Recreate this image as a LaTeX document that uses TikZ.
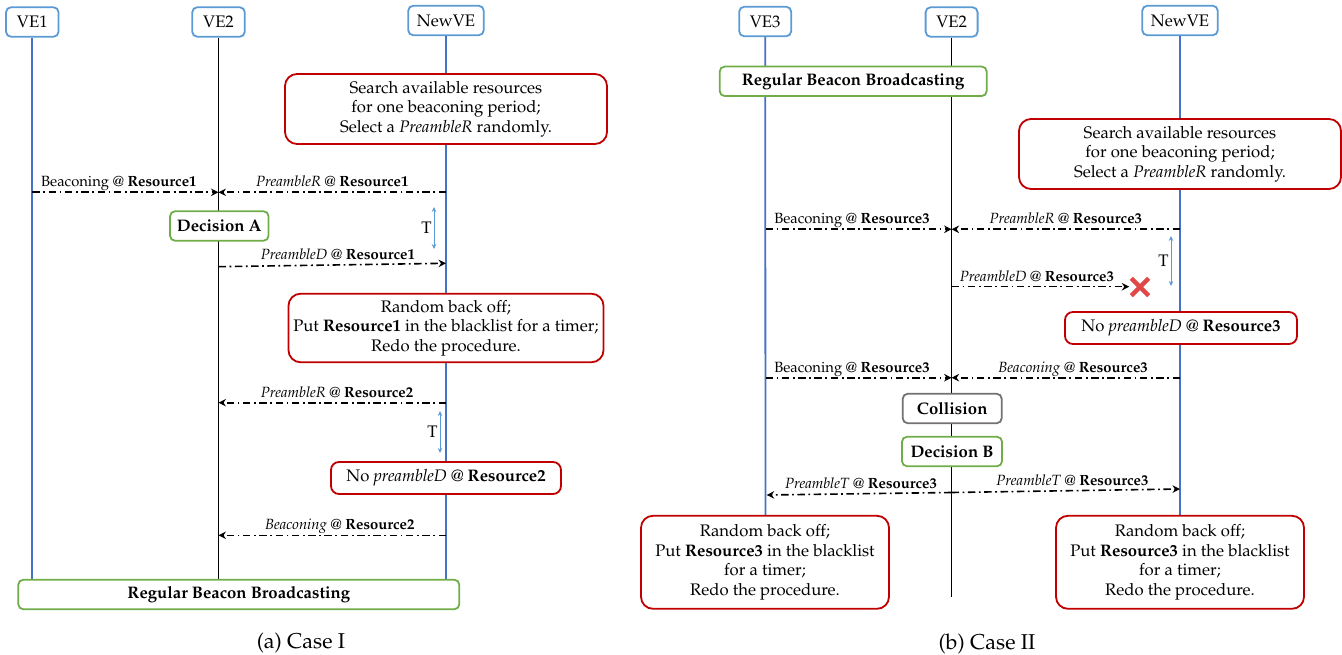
\documentclass[tikz,border=0pt]{standalone}
\usepackage[T1]{fontenc}
\usepackage{mathpazo}
\usetikzlibrary{arrows.meta}
\definecolor{hdrblue}{HTML}{5B9BD5}
\definecolor{lifeblue}{HTML}{4472C4}
\definecolor{myred}{HTML}{C00000}
\definecolor{mygreen}{HTML}{70AD47}
\definecolor{mygray}{HTML}{767171}
\definecolor{xred}{HTML}{E04848}
\newcommand\mainsz{\fontsize{16.7}{19.5}\selectfont}
\newcommand\lblsz{\fontsize{14.8}{17}\selectfont}
\newcommand\capsz{\fontsize{21.5}{25}\selectfont}
\tikzset{
  hdr/.style={draw=hdrblue, line width=1.8pt, rounded corners=5pt, fill=white, inner sep=0pt, minimum height=29.5pt, font=\mainsz},
  rbox/.style={draw=myred, line width=1.8pt, rounded corners=12pt, fill=white, inner sep=0pt, align=center, font=\mainsz},
  gbox/.style={draw=mygreen, line width=1.8pt, rounded corners=5pt, fill=white, inner sep=0pt, minimum height=29.5pt, font=\mainsz\bfseries},
  graybox/.style={draw=mygray, line width=1.8pt, rounded corners=5pt, fill=white, inner sep=0pt, minimum height=29.5pt, font=\mainsz\bfseries},
  life/.style={line width=1.8pt, draw=lifeblue},
  lifek/.style={line width=1.7pt, draw=black},
  msg/.style={line width=1.6pt, dash pattern=on 7.5pt off 3.5pt on 1.8pt off 3.5pt, -{Stealth[length=7.5pt,width=7.5pt,inset=2.5pt]}},
  lbl/.style={font=\lblsz, inner sep=0pt, anchor=base, yshift=5.5pt},
  tarr/.style={draw=hdrblue, line width=1pt, {Stealth[length=5pt,width=4.5pt]}-{Stealth[length=5pt,width=4.5pt]}},
  tlbl/.style={font=\mainsz, inner sep=2pt, left}
}
\begin{document}
\begin{tikzpicture}[x=1pt,y=-1pt]
\useasboundingbox (0,0) rectangle (1342,655);
% ---------- Case I ----------
\node[hdr, minimum width=52.5pt] (ve1) at (32.3,22) {VE1};
\node[hdr, minimum width=52.5pt] (ve2a) at (218.5,22) {VE2};
\node[hdr, minimum width=75.5pt] (newa) at (446,20.5) {NewVE};
\coordinate (ve1e) at (32.3,585);
\coordinate (ve2ae) at (218.5,585);
\coordinate (newae) at (446,585);
\draw[life] (ve1) -- (ve1e);
\draw[lifek] (ve2a) -- (ve2ae);
\draw[life] (newa) -- (newae);

\node[rbox, minimum width=322pt, minimum height=70pt] (r1) at (446,109) {Search available resources\\for one beaconing period;\\Select a \textit{PreambleR} randomly.};

\coordinate (a1) at (32.3,192.3);
\coordinate (a2) at (218.5,192.3);
\coordinate (a3) at (446,192.3);
\draw[msg] (a1) -- node[lbl, pos=0.465]{Beaconing @ \textbf{Resource1}} (a2);
\draw[msg] (a3) -- node[lbl, pos=0.5]{\textit{PreambleR} @ \textbf{Resource1}} (a2);

\node[gbox, minimum width=98.5pt] (deca) at (219.3,226) {Decision A};

\coordinate (t1a) at (434,207);
\coordinate (t1b) at (434,249);
\draw[tarr] (t1a) -- node[tlbl]{T} (t1b);

\coordinate (b1) at (218.5,266.7);
\coordinate (b2) at (446,263.3);
\draw[msg] (b1) -- node[lbl, pos=0.525]{\textit{PreambleD} @ \textbf{Resource1}} (b2);

\node[rbox, minimum width=315pt, minimum height=68.5pt] (r2) at (446,328) {Random back off;\\Put \textbf{Resource1} in the blacklist for a timer;\\Redo the procedure.};

\coordinate (c1) at (446,402.7);
\coordinate (c2) at (218.5,402.7);
\draw[msg] (c1) -- node[lbl, pos=0.479]{\textit{PreambleR} @ \textbf{Resource2}} (c2);

\coordinate (t2a) at (440,411);
\coordinate (t2b) at (440,453);
\draw[tarr] (t2a) -- node[tlbl]{T} (t2b);

\node[rbox, rounded corners=8pt, minimum width=230pt, minimum height=32pt] (r3) at (446,478) {No \textit{preambleD} @ \textbf{Resource2}};

\coordinate (d1) at (446,535.3);
\coordinate (d2) at (218.5,535.3);
\draw[msg] (d1) -- node[lbl, pos=0.467]{\textit{Beaconing} @ \textbf{Resource2}} (d2);

\node[gbox, minimum width=441pt] (rbb1) at (238.8,594.5) {Regular Beacon Broadcasting};
\node[font=\capsz, inner sep=0pt] (capa) at (301,643) {(a) Case I};

% ---------- Case II ----------
\node[hdr, minimum width=52pt] (ve3) at (765.2,21.5) {VE3};
\node[hdr, minimum width=52pt] (ve2b) at (951.6,22) {VE2};
\node[hdr, minimum width=75.5pt] (newb) at (1180,20.5) {NewVE};
\coordinate (ve3e) at (765.5,540);
\coordinate (ve2be) at (951.6,596.7);
\coordinate (newbe) at (1180,540);
\draw[life] (ve3) -- (ve3e);
\draw[lifek] (ve2b) -- (ve2be);
\draw[life] (newb) -- (newbe);

\node[gbox, minimum width=267pt] (rbb2) at (853.2,81.3) {Regular Beacon Broadcasting};
\node[rbox, minimum width=322pt, minimum height=70pt] (r4) at (1180,154) {Search available resources\\for one beaconing period;\\Select a \textit{PreambleR} randomly.};

\coordinate (e1) at (765.5,229.3);
\coordinate (e2) at (951.6,229.3);
\coordinate (e3) at (1180,229.3);
\draw[msg] (e1) -- node[lbl, pos=0.465]{Beaconing @ \textbf{Resource3}} (e2);
\draw[msg] (e3) -- node[lbl, pos=0.5]{\textit{PreambleR} @ \textbf{Resource3}} (e2);

\coordinate (t3a) at (1171,236);
\coordinate (t3b) at (1171,286);
\draw[tarr] (t3a) -- node[tlbl]{T} (t3b);

\node[minimum size=17pt, inner sep=0pt] (xm) at (1140,287) {};
\draw[xred, line width=4.5pt] (xm.north west) -- (xm.south east) (xm.north east) -- (xm.south west);
\coordinate (f1) at (951.6,286.7);
\draw[msg, shorten >=2pt] (f1) -- node[lbl, pos=0.475]{\textit{PreambleD} @ \textbf{Resource3}} (f1 -| xm.west);

\node[rbox, rounded corners=8pt, minimum width=232pt, minimum height=32pt] (r5) at (1181,328) {No \textit{preambleD} @ \textbf{Resource3}};

\coordinate (h1) at (765.5,377.7);
\coordinate (h2) at (951.6,377.7);
\coordinate (h3) at (1180,377.7);
\draw[msg] (h1) -- node[lbl, pos=0.465]{Beaconing @ \textbf{Resource3}} (h2);
\draw[msg] (h3) -- node[lbl, pos=0.468]{\textit{Beaconing} @ \textbf{Resource3}} (h2);

\node[graybox, minimum width=99pt] (coll) at (952.2,408.5) {Collision};
\node[gbox, minimum width=100pt] (decb) at (952,451.5) {Decision B};

\coordinate (g0) at (951.6,492.5);
\coordinate (g1) at (766.7,495);
\coordinate (g2) at (1180,489);
\draw[msg] (g0) -- node[lbl, pos=0.49]{\textit{PreambleT} @ \textbf{Resource3}} (g1);
\draw[msg] (g0) -- node[lbl, pos=0.529]{\textit{PreambleT} @ \textbf{Resource3}} (g2);

\node[rbox, minimum width=248pt, minimum height=93pt] (r6) at (765,562.3) {Random back off;\\Put \textbf{Resource3} in the blacklist\\for a timer;\\Redo the procedure.};
\node[rbox, minimum width=248pt, minimum height=93pt] (r7) at (1180,562.3) {Random back off;\\Put \textbf{Resource3} in the blacklist\\for a timer;\\Redo the procedure.};

\node[font=\capsz, inner sep=0pt] (capb) at (987,644) {(b) Case II};
\end{tikzpicture}
\end{document}
